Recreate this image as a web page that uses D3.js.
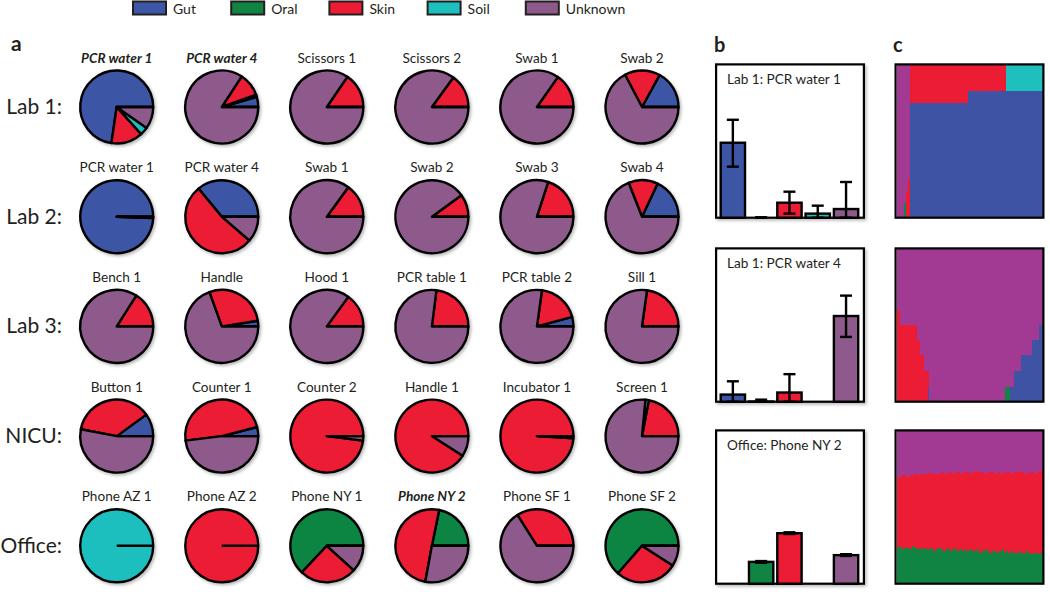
<!DOCTYPE html>
<html><head><meta charset="utf-8">
<script src="https://cdn.jsdelivr.net/npm/d3@7"></script>
<style>
body{margin:0;background:#fff}
svg{display:block}
text{font-family:Lato,"Open Sans",sans-serif;fill:#231f20}
</style>
</head><body><svg id="chart" width="1050" height="608"></svg>
<script>
// ---------------- DATA ----------------
const sources = ["Gut","Oral","Skin","Soil","Unknown"];
const pieColors = ["#3c55a5","#108543","#ec1c34","#1fbfbd","#8e5a8c"];
const mixColors = ["#3f53a4","#108543","#ec1c34","#1fbfbd","#a23a93"];

const rowLabels = ["Lab 1:","Lab 2:","Lab 3:","NICU:","Office:"];
const sampleNames = [
  "PCR water 1","PCR water 4","Scissors 1","Scissors 2","Swab 1","Swab 2",
  "PCR water 1","PCR water 4","Swab 1","Swab 2","Swab 3","Swab 4",
  "Bench 1","Handle","Hood 1","PCR table 1","PCR table 2","Sill 1",
  "Button 1","Counter 1","Counter 2","Handle 1","Incubator 1","Screen 1",
  "Phone AZ 1","Phone AZ 2","Phone NY 1","Phone NY 2","Phone SF 1","Phone SF 2"
];
const highlighted = [0,1,27]; // samples shown in panels b and c (bold italic)

// pie proportions (same order as sampleNames)
const pieGut     = [0.727,0.045,0,0,0,0.17, 0.994,0.36,0,0,0,0.18, 0,0.025,0,0,0.042,0, 0.10,0.04,0,0,0,0, 0,0,0,0,0,0];
const pieOral    = [0,0.01,0,0,0,0, 0,0,0,0,0,0, 0,0,0,0,0,0, 0,0,0,0,0,0, 0,0,0.63,0.218,0,0.636];
const pieSkin    = [0.14,0.103,0.155,0.15,0.153,0.157, 0.003,0.527,0.15,0.10,0.20,0.13, 0.16,0.28,0.15,0.23,0.186,0.228, 0.37,0.48,0.98,0.91,0.99,0.22, 0,1,0.253,0.503,0.34,0.273];
const pieSoil    = [0.036,0,0,0,0,0, 0,0,0,0,0,0, 0,0,0,0,0,0, 0,0,0,0,0,0.015, 1,0,0,0,0,0];
const pieUnknown = [0.097,0.842,0.845,0.85,0.847,0.673, 0.003,0.113,0.85,0.90,0.80,0.69, 0.84,0.695,0.85,0.77,0.772,0.772, 0.53,0.48,0.02,0.09,0.01,0.765, 0,0,0.117,0.279,0.66,0.091];

// panel b: mean proportion with error range
const barTitles = ["Lab 1: PCR water 1","Lab 1: PCR water 4","Office: Phone NY 2"];
const barMean1 = [0.735,0,0.147,0.04,0.085];
const barLow1  = [0.50,0,0.04,0,0];
const barHigh1 = [0.96,0.004,0.255,0.118,0.35];
const barMean2 = [0.07,0.002,0.09,0,0.84];
const barLow2  = [0,0.002,0,null,0.635];
const barHigh2 = [0.20,0.02,0.27,null,1.04];
const barMean3 = [0,0.214,0.495,0,0.28];
const barLow3  = [null,0.205,0.487,null,0.272];
const barHigh3 = [null,0.222,0.504,null,0.289];

// panel c: mixing proportions per run (run-length groups: number of runs with the same composition)
const mixRuns1    = [4,1,1,1,32,21,20];
const mixGut1     = [0,0,0,0,0.75,0.83,0.83];
const mixOral1    = [0,0.09,0,0,0,0,0];
const mixSkin1    = [0,0,0.17,0.25,0.25,0.17,0];
const mixSoil1    = [0,0,0,0,0,0,0.17];
const mixUnknown1 = [1,0.91,0.83,0.75,0,0,0];

const mixRuns2    = [2,9,2,2,2,1,41,3,2,4,6,4,2];
const mixGut2     = [0,0,0,0,0,0.09,0,0,0.09,0.20,0.30,0.40,0.50];
const mixOral2    = [0,0,0,0,0,0,0,0.09,0,0,0,0,0];
const mixSkin2    = [0.60,0.50,0.40,0.30,0.20,0.11,0,0,0,0,0,0,0];
const mixSoil2    = [0,0,0,0,0,0,0,0,0,0,0,0,0];
const mixUnknown2 = [0.40,0.50,0.60,0.70,0.80,0.80,1,0.91,0.91,0.80,0.70,0.60,0.50];

// panel c3: one value per run
const mixOral3 = [0.23,0.24,0.22,0.23,0.23,0.22,0.24,0.23,0.22,0.23,0.22,0.23,0.22,0.22,0.23,0.21,0.22,0.23,0.22,0.21,0.22,0.22,0.21,0.23,0.22,0.21,0.22,0.21,0.22,0.21,0.22,0.21,0.21,0.22,0.20,0.21,0.22,0.21,0.20,0.21,0.21,0.20,0.21,0.22,0.20,0.21,0.20,0.21,0.20,0.20,0.21,0.19,0.20,0.21,0.20,0.19,0.20,0.20,0.19,0.20];
const mixSkin3 = [0.47,0.46,0.49,0.48,0.47,0.49,0.47,0.49,0.50,0.48,0.50,0.49,0.50,0.51,0.49,0.51,0.50,0.49,0.51,0.52,0.50,0.51,0.52,0.49,0.51,0.52,0.50,0.52,0.51,0.52,0.50,0.52,0.53,0.51,0.53,0.52,0.50,0.52,0.53,0.52,0.51,0.53,0.52,0.50,0.53,0.52,0.53,0.51,0.53,0.54,0.52,0.54,0.53,0.51,0.53,0.54,0.53,0.52,0.55,0.54];
const mixUnknown3 = [0.30,0.30,0.29,0.29,0.30,0.29,0.29,0.28,0.28,0.29,0.28,0.28,0.28,0.27,0.28,0.28,0.28,0.28,0.27,0.27,0.28,0.27,0.27,0.28,0.27,0.27,0.28,0.27,0.27,0.27,0.28,0.27,0.26,0.27,0.27,0.27,0.28,0.27,0.27,0.27,0.28,0.27,0.27,0.28,0.27,0.27,0.27,0.28,0.27,0.26,0.27,0.27,0.27,0.28,0.27,0.27,0.27,0.28,0.26,0.26];

// ---------------- DRAWING ----------------
const svg = d3.select("#chart");
const defs = svg.append("defs");
const f = defs.append("filter").attr("id","shadow").attr("x","-20%").attr("y","-20%").attr("width","150%").attr("height","150%");
f.append("feDropShadow").attr("dx",1.6).attr("dy",1.8).attr("stdDeviation",1.4).attr("flood-color","#000").attr("flood-opacity",0.28);

// legend
const legend = svg.append("g");
sources.forEach((s,i)=>{
  const x = 133 + i*98.2;
  legend.append("rect").attr("x",x).attr("y",1.5).attr("width",33).attr("height",13)
    .attr("fill",pieColors[i]).attr("stroke","#231f20").attr("stroke-width",2);
  legend.append("text").attr("x",x+40).attr("y",13.5).attr("font-size",14).text(s);
});

// panel letters
svg.append("text").attr("x",11).attr("y",51).attr("font-size",21).attr("font-weight","bold").text("a");
svg.append("text").attr("x",714).attr("y",51.5).attr("font-size",20).attr("font-weight","bold").text("b");
svg.append("text").attr("x",893).attr("y",51.5).attr("font-size",20).attr("font-weight","bold").text("c");

// panel a: pies
const pieSeries = [pieGut,pieOral,pieSkin,pieSoil,pieUnknown];
const R = 36.5;
const colX = d3.scalePoint().domain(d3.range(6)).range([116.7,642]);
const rowY = d3.scalePoint().domain(d3.range(5)).range([107,545.8]);
const pie = d3.pie().sort(null).value(d=>d.v).startAngle(Math.PI/2).endAngle(Math.PI/2-2*Math.PI);
const arc = d3.arc().innerRadius(0).outerRadius(R);

rowLabels.forEach((l,r)=>{
  svg.append("text").attr("x",62).attr("y",rowY(r)+7).attr("text-anchor","end").attr("font-size",21).text(l);
});

sampleNames.forEach((name,i)=>{
  const r = Math.floor(i/6), c = i%6;
  const g = svg.append("g").attr("transform",`translate(${colX(c)},${rowY(r)})`);
  const vals = sources.map((s,k)=>({k, v: pieSeries[k][i]})).filter(d=>d.v>0);
  const gp = g.append("g").attr("filter","url(#shadow)");
  gp.selectAll("path").data(pie(vals)).join("path")
    .attr("d",arc).attr("fill",d=>pieColors[d.data.k])
    .attr("stroke","#000").attr("stroke-width",2.4).attr("stroke-linejoin","round");
  g.append("line").attr("x1",0).attr("y1",0).attr("x2",R).attr("y2",0)
    .attr("stroke","#000").attr("stroke-width",2.4);
  const hl = highlighted.includes(i);
  g.append("text").attr("x",0).attr("y",-44.5).attr("text-anchor","middle")
    .attr("font-size",13.6)
    .attr("font-weight",hl?"bold":"normal").attr("font-style",hl?"italic":"normal")
    .text(name);
});

// panels b and c
const panelTops = [63.3,247.3,429.3];
const panelH = 155.5;
const barPanels = [
  {mean:barMean1, low:barLow1, high:barHigh1},
  {mean:barMean2, low:barLow2, high:barHigh2},
  {mean:barMean3, low:barLow3, high:barHigh3}
];
const xb = d3.scaleBand().domain(sources).range([718.7,860.2]).paddingInner(0.14).paddingOuter(0.07);
const bx0 = 715, bw = 150;

barPanels.forEach((p,j)=>{
  const top = panelTops[j];
  const bottom = top + panelH - 1.1;
  const yb = d3.scaleLinear().domain([0,1.5]).range([bottom, bottom-153]);
  const g = svg.append("g");
  g.append("rect").attr("x",bx0+1.1).attr("y",top+1.1).attr("width",bw-2.2).attr("height",panelH-2.2)
    .attr("fill","#fff").attr("stroke","#000").attr("stroke-width",2.2).attr("filter","url(#shadow)");
  g.append("text").attr("x",bx0+12).attr("y",top+20.5).attr("font-size",13.6).text(barTitles[j]);
  sources.forEach((s,k)=>{
    const m = p.mean[k];
    if (m>0) {
      g.append("rect").attr("x",xb(s)).attr("width",xb.bandwidth())
        .attr("y",yb(m)).attr("height",yb(0)-yb(m))
        .attr("fill",pieColors[k]).attr("stroke","#000").attr("stroke-width",2.4);
    }
    if (p.high[k]!==null) {
      const cx = xb(s)+xb.bandwidth()/2;
      const eg = g.append("g").attr("stroke","#000").attr("stroke-width",2.4);
      eg.append("line").attr("x1",cx).attr("x2",cx).attr("y1",yb(p.low[k])).attr("y2",yb(p.high[k]));
      eg.append("line").attr("x1",cx-6).attr("x2",cx+6).attr("y1",yb(p.high[k])).attr("y2",yb(p.high[k]));
      eg.append("line").attr("x1",cx-6).attr("x2",cx+6).attr("y1",yb(p.low[k])).attr("y2",yb(p.low[k]));
    }
  });
});

// panel c
const mixPanels = [
  {runs:mixRuns1, series:[mixGut1,mixOral1,mixSkin1,mixSoil1,mixUnknown1]},
  {runs:mixRuns2, series:[mixGut2,mixOral2,mixSkin2,mixSoil2,mixUnknown2]},
  {runs:null, series:[null,mixOral3,mixSkin3,null,mixUnknown3]}
];
const cx0 = 894.5, cw = 150;
mixPanels.forEach((p,j)=>{
  const top = panelTops[j];
  const ref = p.series.find(s=>s);
  const runs = [];
  ref.forEach((_,g)=>{
    const n = p.runs ? p.runs[g] : 1;
    const row = {};
    sources.forEach((s,k)=>{ row[s] = p.series[k] ? p.series[k][g] : 0; });
    for (let t=0;t<n;t++) runs.push(row);
  });
  const stacked = d3.stack().keys(sources)(runs);
  const xm = d3.scaleLinear().domain([0,runs.length]).range([cx0+2,cx0+cw-2]);
  const ym = d3.scaleLinear().domain([0,1]).range([top+panelH-2,top+2]);
  const g = svg.append("g");
  stacked.forEach((layer,k)=>{
    g.append("g").attr("fill",mixColors[k]).selectAll("rect").data(layer).join("rect")
      .attr("x",(d,i)=>xm(i)).attr("width",(d,i)=>xm(i+1)-xm(i)+0.4)
      .attr("y",d=>ym(d[1])).attr("height",d=>Math.max(0,ym(d[0])-ym(d[1])))
      .attr("shape-rendering","crispEdges");
  });
  g.append("rect").attr("x",cx0+1.1).attr("y",top+1.1).attr("width",cw-2.2).attr("height",panelH-2.2)
    .attr("fill","none").attr("stroke","#000").attr("stroke-width",2.2);
});
</script></body></html>
